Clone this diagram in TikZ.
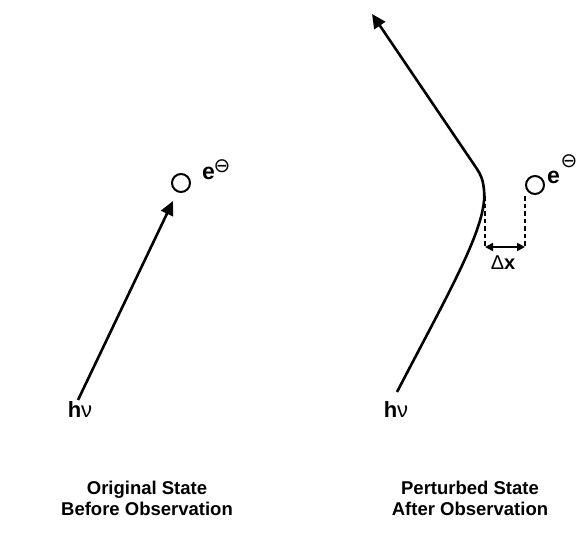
\documentclass[tikz,border=0pt]{standalone}
\usepackage{fontspec}
\setmainfont{Liberation Sans}
\newfontfamily\symfont{DejaVu Sans}
\usetikzlibrary{arrows.meta}
\begin{document}
\begin{tikzpicture}[x=1pt,y=-1pt,
  ray/.style={line width=2.6pt,-{Triangle[length=14pt,width=13pt]}},
  elec/.style={circle,draw,line width=2pt,minimum size=18pt,inner sep=0pt},
  lbl/.style={font=\fontsize{18.5}{21}\selectfont\bfseries,align=center},
  sym/.style={font=\fontsize{22}{24}\selectfont,inner sep=0pt},
  ee/.style={font=\fontsize{23}{24}\selectfont\bfseries,inner sep=0pt},
  sup/.style={font=\symfont\fontsize{20}{20}\selectfont,inner sep=0pt},
  guide/.style={line width=2pt,dash pattern=on 4.5pt off 3pt}]
\useasboundingbox (0,0) rectangle (577,537);
% left
\node[elec] (c1) at (181,183) {};
\node[ee,anchor=base west] (e1) at (202,179.5) {e};
\node[sup] (m1) at (222,166) {⊖};
\coordinate (s1) at (78,400);
\coordinate (t1) at (173,201);
\draw[ray] (s1) -- (t1);
\node[sym] (h1) at (80,410) {\textbf{h}ν};
\node[lbl] (L1) at (147,498) {Original State\\Before Observation};
% right
\node[elec] (c2) at (535,185) {};
\node[ee,anchor=base west] (e2) at (547,183.5) {e};
\node[sup] (m2) at (569,161.5) {⊖};
\coordinate (s2) at (397,392);
\coordinate (t2) at (372,14);
\draw[ray,line join=round] (s2) .. controls (450,290) and (488,225) .. (484,190) .. controls (483,180) and (481,175) .. (477,169) -- (t2);
\coordinate (d1a) at (485,196);
\coordinate (d1b) at (485,247);
\coordinate (d2a) at (525,196);
\coordinate (d2b) at (525,247);
\draw[guide] (d1a) -- (d1b);
\draw[guide] (d2a) -- (d2b);
\draw[line width=2pt,{Triangle[length=8pt,width=8pt]}-{Triangle[length=8pt,width=8pt]}] (d1b) -- (d2b);
\node[sym,font=\fontsize{20}{22}\selectfont] (dx) at (503,263) {Δ\textbf{x}};
\node[sym] (h2) at (396,410) {\textbf{h}ν};
\node[lbl] (L2) at (470,498) {Perturbed State\\After Observation};
\end{tikzpicture}
\end{document}
